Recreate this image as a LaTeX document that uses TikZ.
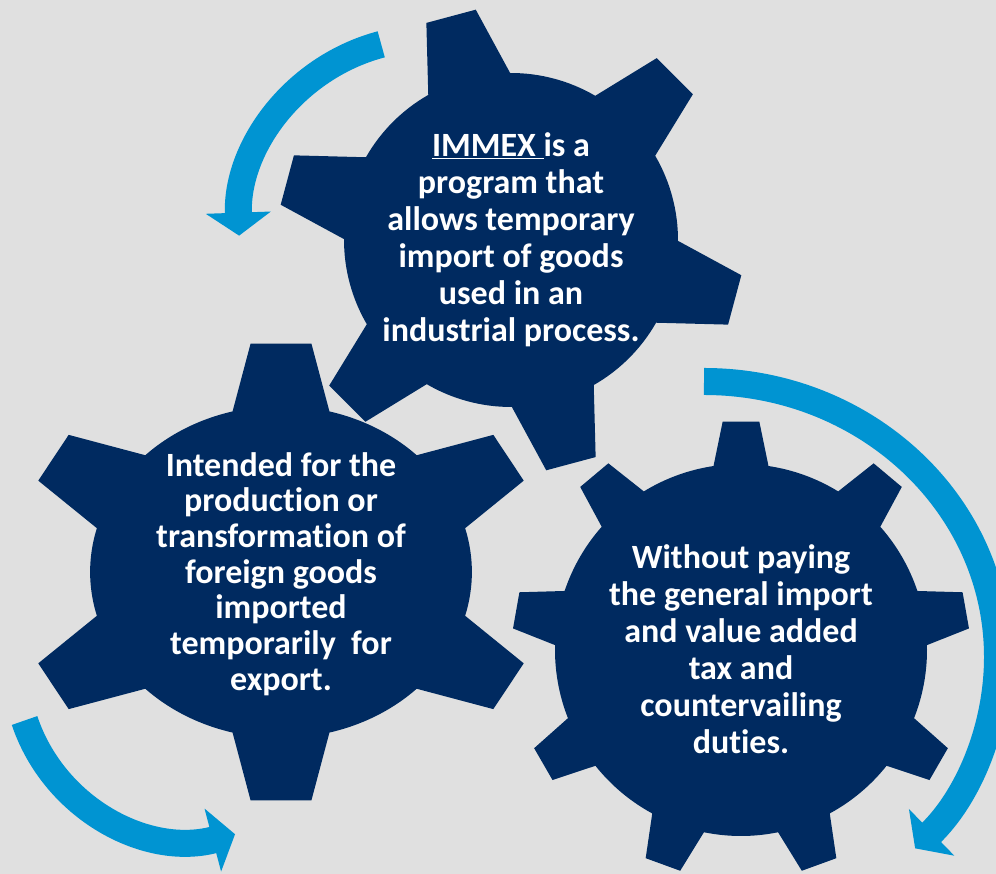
\documentclass[tikz,border=0pt]{standalone}
\usepackage{fontspec}
\setmainfont{Carlito}[Ligatures=NoCommon]
\usetikzlibrary{arrows.meta}
\definecolor{gearnavy}{RGB}{0,42,96}
\definecolor{arrowblue}{RGB}{0,148,210}
\definecolor{bggray}{RGB}{224,224,224}
% teeth, body radius, tip radius, base half angle, tip half angle, rotation
\newcommand\gearshape[6]{%
  \fill[gearfill] ({#6-#4}:#2)
  \foreach \k in {1,...,#1}{
    -- ({#6+(\k-1)*360/#1-#5}:#3)
    -- ({#6+(\k-1)*360/#1+#5}:#3)
    -- ({#6+(\k-1)*360/#1+#4}:#2)
    arc[start angle={#6+(\k-1)*360/#1+#4},end angle={#6+\k*360/#1-#4},radius=#2]
  } -- cycle;}
\begin{document}
\begin{tikzpicture}[x=1pt,y=1pt,
    gearfill/.style={fill=gearnavy},
    gearlabel/.style={text=white,align=center,font=\bfseries\fontsize{34}{37}\selectfont},
    turnarrow/.style={draw=arrowblue,line width=27pt,-{Triangle[length=23pt,width=64pt]}}]
		\fill[bggray] (0,0) rectangle (996,874);
		\clip (0,0) rectangle (996,874);
		\begin{scope}[shift={(511,634)}]
			\gearshape{6}{167}{233}{14.7}{6.3}{105}
		\end{scope}
		\begin{scope}[shift={(281,302)},xscale=1.15]
			\gearshape{6}{166}{230}{14.7}{6.6}{90}
		\end{scope}
		\begin{scope}[shift={(741,224)}]
			\gearshape{9}{186}{229}{8.5}{4.6}{90}
		\end{scope}
		\node (gtop) [gearlabel] at (511,634) {\underline{IMMEX\ }is a\\program that\\allows temporary\\import of goods\\used in an\\industrial process.};
		\node (gleft) [gearlabel,font=\bfseries\fontsize{34}{35.7}\selectfont] at (281,300) {Intended for the\\production or\\transformation of\\foreign goods\\imported\\temporarily~ for\\export.};
		\node (gright) [gearlabel] at (741,225) {Without paying\\the general import\\and value added\\tax and\\countervailing\\duties.};
		\coordinate (t1) at ([shift={(430,645)}]104.8:191);
		\coordinate (t2) at ([shift={(190.5,209)}]198.5:175);
		\coordinate (t3) at (704,492.5);
		\draw[turnarrow] (t1) arc[start angle=104.8,end angle=182,radius=191];
		\draw[turnarrow] (t2) arc[start angle=198.5,end angle=284.75,radius=175];
		\draw[turnarrow] (t3) arc[start angle=90,end angle=-44,x radius=293.5,y radius=275.5];
\end{tikzpicture}
\end{document}
